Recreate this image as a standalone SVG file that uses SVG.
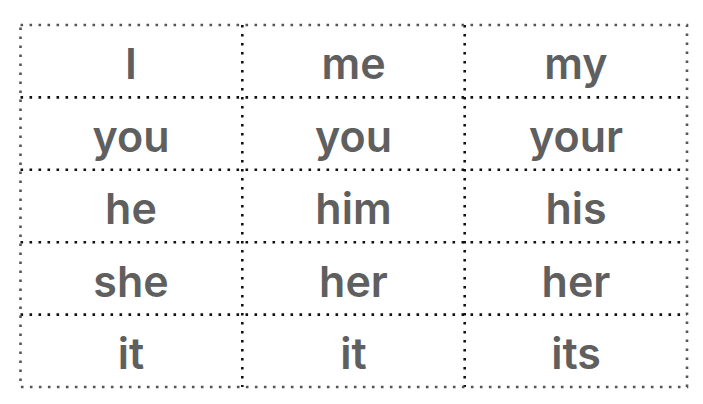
<svg xmlns="http://www.w3.org/2000/svg" width="703" height="404" viewBox="0 0 703 404">
<style>
.t{font-family:Inter,"Open Sans","Liberation Sans",sans-serif;font-weight:600;font-size:43px;fill:#5f5f5f;text-anchor:middle}
.g{stroke:#111;stroke-width:2.6;stroke-dasharray:2.6 6.4;fill:none}
.o{stroke:#555}
</style>
<rect width="703" height="404" fill="#fff"/>
<g id="grid">
<line class="g" x1="20.5" y1="97.4" x2="687" y2="97.4"/>
<line class="g" x1="20.5" y1="169.8" x2="687" y2="169.8"/>
<line class="g" x1="20.5" y1="242.2" x2="687" y2="242.2"/>
<line class="g" x1="20.5" y1="314.6" x2="687" y2="314.6"/>
<line class="g" x1="242.3" y1="25" x2="242.3" y2="387"/>
<line class="g" x1="464.7" y1="25" x2="464.7" y2="387"/>
<rect class="g o" x="20.5" y="25" width="666.5" height="362"/>
</g>
<g id="r1"><text class="t" x="131" y="79.3">I</text><text class="t" x="353.5" y="79.3">me</text><text class="t" x="576" y="79.3">my</text></g>
<g id="r2"><text class="t" x="131" y="151.7">you</text><text class="t" x="353.5" y="151.7">you</text><text class="t" x="576" y="151.7">your</text></g>
<g id="r3"><text class="t" x="131" y="224.1">he</text><text class="t" x="353.5" y="224.1">him</text><text class="t" x="576" y="224.1">his</text></g>
<g id="r4"><text class="t" x="131" y="296.5">she</text><text class="t" x="353.5" y="296.5">her</text><text class="t" x="576" y="296.5">her</text></g>
<g id="r5"><text class="t" x="131" y="368.9">it</text><text class="t" x="353.5" y="368.9">it</text><text class="t" x="576" y="368.9">its</text></g>
</svg>
